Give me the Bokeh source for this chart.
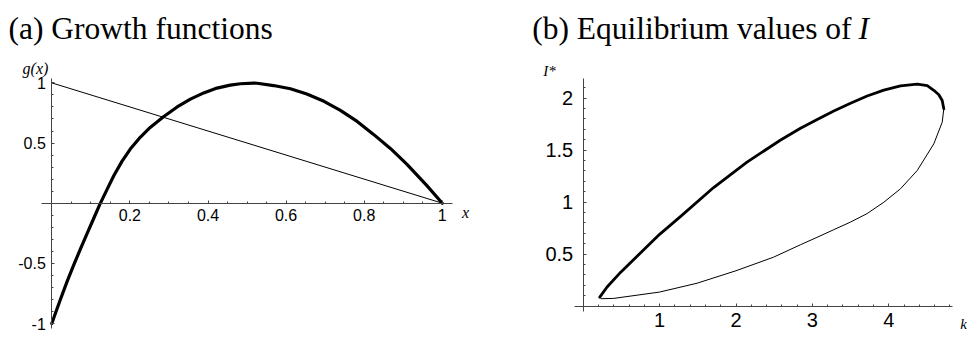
from bokeh.plotting import figure
from bokeh.models import FixedTicker, Range1d, Label
from bokeh.layouts import row
from bokeh.embed import file_html
from bokeh.resources import INLINE

# ---------------- data: panel (a) Growth functions ----------------
g_x = [0.0, 0.0095, 0.022, 0.0393, 0.056, 0.0734, 0.09, 0.1075, 0.123, 0.1416,
       0.159, 0.180, 0.201, 0.227, 0.252, 0.286, 0.321, 0.355, 0.389, 0.423,
       0.457, 0.483, 0.517, 0.526, 0.568, 0.611, 0.653, 0.697, 0.738, 0.782,
       0.824, 0.867, 0.909, 0.96, 1.0]
g_y = [-1.0, -0.912, -0.80, -0.65, -0.515, -0.38, -0.255, -0.125, -0.01, 0.115,
       0.23, 0.35, 0.45, 0.55, 0.63, 0.718, 0.80, 0.865, 0.917, 0.957,
       0.982, 0.993, 0.998, 0.997, 0.978, 0.951, 0.908, 0.847, 0.774, 0.68,
       0.572, 0.455, 0.325, 0.148, 0.0]
lin_x = [0.0, 1.0]
lin_y = [1.0, 0.0]

a_xticks = [0.2, 0.4, 0.6, 0.8, 1.0]
a_xlabels = ["0.2", "0.4", "0.6", "0.8", "1"]
a_yticks = [-1.0, -0.5, 0.5, 1.0]
a_ylabels = ["-1", "-0.5", "0.5", "1"]

# ---------------- data: panel (b) Equilibrium values of I ----------------
up_k = [0.217, 0.31, 0.488, 1.0, 1.272, 1.707, 2.144, 2.579, 2.844, 3.063,
        3.28, 3.499, 3.717, 3.935, 4.153, 4.372, 4.503, 4.589, 4.655, 4.699, 4.72]
up_I = [0.086, 0.181, 0.324, 0.69, 0.86, 1.14, 1.385, 1.595, 1.71, 1.795,
        1.875, 1.95, 2.02, 2.076, 2.118, 2.135, 2.121, 2.075, 2.032, 1.977, 1.897]
lo_k = [4.72, 4.699, 4.589, 4.372, 4.153, 3.935, 3.717, 3.499, 3.28, 3.063,
        2.844, 2.49, 2.0, 1.49, 1.0, 0.40, 0.235, 0.217]
lo_I = [1.897, 1.768, 1.56, 1.304, 1.128, 0.999, 0.89, 0.808, 0.735, 0.662,
        0.59, 0.47, 0.34, 0.22, 0.135, 0.074, 0.071, 0.086]

b_xticks = [1, 2, 3, 4]
b_xlabels = ["1", "2", "3", "4"]
b_yticks = [0.5, 1.0, 1.5, 2.0]
b_ylabels = ["0.5", "1", "1.5", "2"]

# ---------------- layout geometry (page pixels) ----------------
W1, W2, H = 480, 487, 338
LEFT1, LEFT2, TOP = 0, 480, 0


def ax_(px):  # panel a: page x -> data x
    return (px - 51.3) / 390.5


def ay_(py):  # panel a: page y -> data y
    return (202.7 - py) / 120.3


def bx_(px):  # panel b: page x -> k
    return (px - 582.7) / 76.4


def by_(py):  # panel b: page y -> I
    return (305.6 - py) / 104.0


def style_axis(axis, ticks, labels, minor, fixed, bounds, fsize, standoff):
    axis.ticker = FixedTicker(ticks=ticks, minor_ticks=minor)
    axis.major_label_overrides = dict(zip(ticks, labels))
    axis.fixed_location = fixed
    axis.bounds = bounds
    axis.major_tick_in = 3
    axis.major_tick_out = 0
    axis.minor_tick_in = 2
    axis.minor_tick_out = 0
    axis.axis_line_color = "#444444"
    axis.axis_line_width = 1
    axis.major_tick_line_color = "#444444"
    axis.minor_tick_line_color = "#444444"
    axis.major_label_text_font = "Liberation Sans"
    axis.major_label_text_font_size = fsize
    axis.major_label_text_color = "black"
    axis.major_label_standoff = standoff


def make_fig(width, xr, yr):
    p = figure(width=width, height=H, output_backend="svg", toolbar_location=None,
               x_range=Range1d(*xr), y_range=Range1d(*yr),
               min_border=0, min_border_left=0, min_border_right=0,
               min_border_top=0, min_border_bottom=0,
               outline_line_color=None, background_fill_color="white",
               border_fill_color="white")
    p.grid.visible = False
    return p


def add_text(p, x, y, text, size, italic=False, align="left", baseline="middle",
             font="Liberation Serif"):
    p.add_layout(Label(x=x, y=y, text=text, text_font=font,
                       text_font_style="italic" if italic else "normal",
                       text_font_size=size, text_align=align,
                       text_baseline=baseline, text_color="black"))


# ---------------- panel (a) ----------------
p1 = make_fig(W1, (ax_(LEFT1), ax_(LEFT1 + W1)), (ay_(TOP + H), ay_(TOP)))
p1.line(g_x, g_y, line_color="black", line_width=3.2, line_join="round", line_cap="round")
p1.line(lin_x, lin_y, line_color="black", line_width=1)

a_xminor = [round(0.05 * i, 2) for i in range(1, 21) if i % 4 != 0]
a_yminor = [round(0.1 * i, 1) for i in range(-10, 11) if i % 5 != 0]
style_axis(p1.xaxis[0], a_xticks, a_xlabels, a_xminor, 0, (-0.026, 1.025), "16px", 6)
style_axis(p1.yaxis[0], a_yticks, a_ylabels, a_yminor, 0, (-1.044, 1.036), "16px", 6)

add_text(p1, ax_(8), ay_(27.5), "(a) Growth functions", "31.5px", baseline="alphabetic")
add_text(p1, ax_(35), ay_(68), "g(x)", "16px", italic=True, align="center")
add_text(p1, ax_(465), ay_(212), "x", "16px", italic=True, align="center")

# ---------------- panel (b) ----------------
p2 = make_fig(W2, (bx_(LEFT2), bx_(LEFT2 + W2)), (by_(TOP + H), by_(TOP)))
p2.line(lo_k, lo_I, line_color="black", line_width=1, line_join="round")
p2.line(up_k, up_I, line_color="black", line_width=2.8, line_join="round", line_cap="round")

b_xminor = [round(0.2 * i, 1) for i in range(1, 25) if i % 5 != 0]
b_yminor = [round(0.1 * i, 1) for i in range(1, 22) if i % 5 != 0]
style_axis(p2.xaxis[0], b_xticks, b_xlabels, b_xminor, 0, (-0.11, 4.83), "20px", 7)
style_axis(p2.yaxis[0], b_yticks, b_ylabels, b_yminor, 0, (-0.05, 2.19), "20px", 10)

add_text(p2, bx_(531.7), by_(27.5), "(b) Equilibrium values of ", "31.5px", baseline="alphabetic")
add_text(p2, bx_(858), by_(27.5), "I", "31.5px", italic=True, baseline="alphabetic")
add_text(p2, bx_(549), by_(70), "I*", "15px", italic=True, align="center")
add_text(p2, bx_(963), by_(323), "k", "15px", italic=True, align="center")

layout = row(p1, p2)
open("out.html", "w").write(file_html(layout, INLINE))
